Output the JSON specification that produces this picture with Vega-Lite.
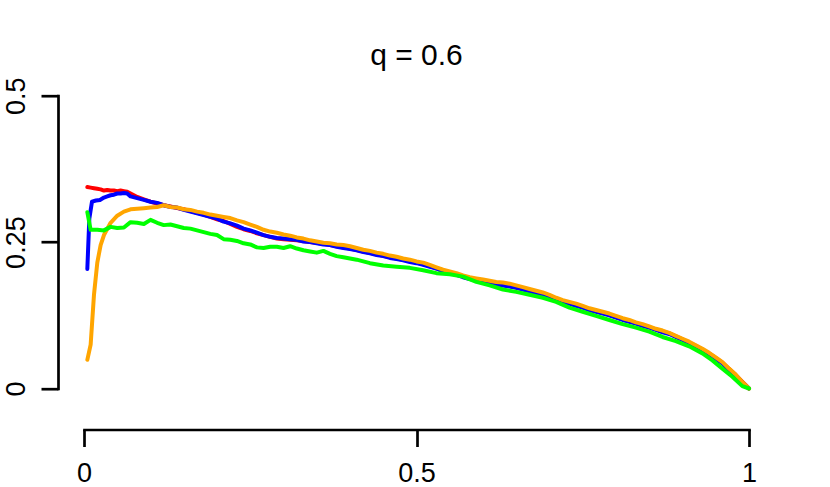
{
  "$schema": "https://vega.github.io/schema/vega-lite/v6.json",
  "autosize": {"type": "none"},
  "width": 665,
  "height": 292.8,
  "padding": {"left": 84, "top": 95.7, "right": 81, "bottom": 98.5},
  "background": "white",
  "title": {"text": "q = 0.6", "fontSize": 30, "font": "Liberation Sans", "fontWeight": "normal", "color": "black", "anchor": "middle", "baseline": "alphabetic", "offset": -18},
  "config": {
    "view": {"stroke": null},
    "axis": {"grid": false, "domainColor": "black", "domainWidth": 2.7, "tickColor": "black", "tickWidth": 2.7, "tickSize": 17, "labelFont": "Liberation Sans", "labelFontSize": 27, "labelColor": "black", "title": null, "domainCap": "square"}
  },
  "data": {"values": [
    {"s":"o","x":0.005,"y":0.049},{"s":"o","x":0.010,"y":0.075},{"s":"o","x":0.015,"y":0.160},{"s":"o","x":0.020,"y":0.215},{"s":"o","x":0.025,"y":0.245},{"s":"o","x":0.030,"y":0.262},{"s":"o","x":0.040,"y":0.283},{"s":"o","x":0.050,"y":0.295},{"s":"o","x":0.060,"y":0.302},{"s":"o","x":0.070,"y":0.306},{"s":"o","x":0.080,"y":0.307},{"s":"o","x":0.090,"y":0.308},{"s":"o","x":0.100,"y":0.309},{"s":"o","x":0.110,"y":0.310},{"s":"o","x":0.120,"y":0.313},{"s":"o","x":0.130,"y":0.310},{"s":"o","x":0.140,"y":0.309},{"s":"o","x":0.150,"y":0.306},{"s":"o","x":0.160,"y":0.305},{"s":"o","x":0.170,"y":0.302},{"s":"o","x":0.180,"y":0.300},{"s":"o","x":0.190,"y":0.297},{"s":"o","x":0.200,"y":0.295},{"s":"o","x":0.210,"y":0.293},{"s":"o","x":0.220,"y":0.291},{"s":"o","x":0.230,"y":0.287},{"s":"o","x":0.240,"y":0.284},{"s":"o","x":0.250,"y":0.280},{"s":"o","x":0.260,"y":0.276},{"s":"o","x":0.270,"y":0.271},{"s":"o","x":0.280,"y":0.268},{"s":"o","x":0.290,"y":0.266},{"s":"o","x":0.300,"y":0.263},{"s":"o","x":0.310,"y":0.261},{"s":"o","x":0.320,"y":0.258},{"s":"o","x":0.330,"y":0.256},{"s":"o","x":0.340,"y":0.253},{"s":"o","x":0.350,"y":0.251},{"s":"o","x":0.360,"y":0.249},{"s":"o","x":0.370,"y":0.248},{"s":"o","x":0.380,"y":0.246},{"s":"o","x":0.390,"y":0.245},{"s":"o","x":0.400,"y":0.243},{"s":"o","x":0.410,"y":0.240},{"s":"o","x":0.420,"y":0.237},{"s":"o","x":0.430,"y":0.235},{"s":"o","x":0.440,"y":0.232},{"s":"o","x":0.450,"y":0.230},{"s":"o","x":0.460,"y":0.227},{"s":"o","x":0.470,"y":0.225},{"s":"o","x":0.480,"y":0.222},{"s":"o","x":0.490,"y":0.220},{"s":"o","x":0.500,"y":0.217},{"s":"o","x":0.510,"y":0.215},{"s":"o","x":0.520,"y":0.211},{"s":"o","x":0.530,"y":0.207},{"s":"o","x":0.540,"y":0.203},{"s":"o","x":0.550,"y":0.200},{"s":"o","x":0.560,"y":0.197},{"s":"o","x":0.570,"y":0.193},{"s":"o","x":0.580,"y":0.190},{"s":"o","x":0.590,"y":0.188},{"s":"o","x":0.600,"y":0.186},{"s":"o","x":0.610,"y":0.184},{"s":"o","x":0.620,"y":0.182},{"s":"o","x":0.630,"y":0.181},{"s":"o","x":0.640,"y":0.179},{"s":"o","x":0.650,"y":0.176},{"s":"o","x":0.660,"y":0.173},{"s":"o","x":0.670,"y":0.170},{"s":"o","x":0.680,"y":0.167},{"s":"o","x":0.690,"y":0.164},{"s":"o","x":0.700,"y":0.160},{"s":"o","x":0.710,"y":0.155},{"s":"o","x":0.720,"y":0.151},{"s":"o","x":0.730,"y":0.148},{"s":"o","x":0.740,"y":0.145},{"s":"o","x":0.750,"y":0.141},{"s":"o","x":0.760,"y":0.137},{"s":"o","x":0.770,"y":0.134},{"s":"o","x":0.780,"y":0.131},{"s":"o","x":0.790,"y":0.128},{"s":"o","x":0.800,"y":0.124},{"s":"o","x":0.810,"y":0.120},{"s":"o","x":0.820,"y":0.117},{"s":"o","x":0.830,"y":0.113},{"s":"o","x":0.840,"y":0.110},{"s":"o","x":0.850,"y":0.106},{"s":"o","x":0.860,"y":0.102},{"s":"o","x":0.870,"y":0.099},{"s":"o","x":0.880,"y":0.095},{"s":"o","x":0.890,"y":0.090},{"s":"o","x":0.900,"y":0.085},{"s":"o","x":0.910,"y":0.080},{"s":"o","x":0.920,"y":0.074},{"s":"o","x":0.930,"y":0.068},{"s":"o","x":0.940,"y":0.061},{"s":"o","x":0.950,"y":0.053},{"s":"o","x":0.960,"y":0.045},{"s":"o","x":0.970,"y":0.034},{"s":"o","x":0.980,"y":0.024},{"s":"o","x":0.990,"y":0.011},{"s":"o","x":1.000,"y":0.000},

    {"s":"b","x":0.005,"y":0.204},{"s":"b","x":0.008,"y":0.290},{"s":"b","x":0.012,"y":0.319},{"s":"b","x":0.018,"y":0.321},{"s":"b","x":0.024,"y":0.322},{"s":"b","x":0.030,"y":0.326},{"s":"b","x":0.035,"y":0.328},{"s":"b","x":0.040,"y":0.330},{"s":"b","x":0.045,"y":0.331},{"s":"b","x":0.050,"y":0.333},{"s":"b","x":0.055,"y":0.333},{"s":"b","x":0.060,"y":0.334},{"s":"b","x":0.065,"y":0.333},{"s":"b","x":0.070,"y":0.328},{"s":"b","x":0.080,"y":0.325},{"s":"b","x":0.090,"y":0.322},{"s":"b","x":0.100,"y":0.319},{"s":"b","x":0.110,"y":0.317},{"s":"b","x":0.120,"y":0.313},{"s":"b","x":0.130,"y":0.310},{"s":"b","x":0.140,"y":0.309},{"s":"b","x":0.150,"y":0.305},{"s":"b","x":0.160,"y":0.302},{"s":"b","x":0.170,"y":0.299},{"s":"b","x":0.180,"y":0.296},{"s":"b","x":0.190,"y":0.293},{"s":"b","x":0.200,"y":0.290},{"s":"b","x":0.210,"y":0.285},{"s":"b","x":0.220,"y":0.282},{"s":"b","x":0.230,"y":0.278},{"s":"b","x":0.240,"y":0.273},{"s":"b","x":0.250,"y":0.270},{"s":"b","x":0.260,"y":0.266},{"s":"b","x":0.270,"y":0.262},{"s":"b","x":0.280,"y":0.259},{"s":"b","x":0.290,"y":0.257},{"s":"b","x":0.300,"y":0.256},{"s":"b","x":0.310,"y":0.255},{"s":"b","x":0.320,"y":0.254},{"s":"b","x":0.330,"y":0.251},{"s":"b","x":0.340,"y":0.250},{"s":"b","x":0.350,"y":0.248},{"s":"b","x":0.360,"y":0.246},{"s":"b","x":0.370,"y":0.245},{"s":"b","x":0.380,"y":0.242},{"s":"b","x":0.390,"y":0.240},{"s":"b","x":0.400,"y":0.238},{"s":"b","x":0.410,"y":0.236},{"s":"b","x":0.420,"y":0.233},{"s":"b","x":0.430,"y":0.231},{"s":"b","x":0.440,"y":0.228},{"s":"b","x":0.450,"y":0.226},{"s":"b","x":0.460,"y":0.223},{"s":"b","x":0.470,"y":0.221},{"s":"b","x":0.480,"y":0.219},{"s":"b","x":0.490,"y":0.216},{"s":"b","x":0.500,"y":0.214},{"s":"b","x":0.510,"y":0.211},{"s":"b","x":0.520,"y":0.208},{"s":"b","x":0.530,"y":0.205},{"s":"b","x":0.540,"y":0.200},{"s":"b","x":0.550,"y":0.197},{"s":"b","x":0.560,"y":0.194},{"s":"b","x":0.570,"y":0.190},{"s":"b","x":0.580,"y":0.187},{"s":"b","x":0.590,"y":0.185},{"s":"b","x":0.600,"y":0.182},{"s":"b","x":0.610,"y":0.180},{"s":"b","x":0.620,"y":0.178},{"s":"b","x":0.630,"y":0.176},{"s":"b","x":0.640,"y":0.174},{"s":"b","x":0.650,"y":0.172},{"s":"b","x":0.660,"y":0.169},{"s":"b","x":0.670,"y":0.166},{"s":"b","x":0.680,"y":0.163},{"s":"b","x":0.690,"y":0.160},{"s":"b","x":0.700,"y":0.156},{"s":"b","x":0.710,"y":0.152},{"s":"b","x":0.720,"y":0.148},{"s":"b","x":0.730,"y":0.145},{"s":"b","x":0.740,"y":0.141},{"s":"b","x":0.750,"y":0.138},{"s":"b","x":0.760,"y":0.134},{"s":"b","x":0.770,"y":0.131},{"s":"b","x":0.780,"y":0.128},{"s":"b","x":0.790,"y":0.125},{"s":"b","x":0.800,"y":0.121},{"s":"b","x":0.810,"y":0.117},{"s":"b","x":0.820,"y":0.114},{"s":"b","x":0.830,"y":0.111},{"s":"b","x":0.840,"y":0.107},{"s":"b","x":0.850,"y":0.104},{"s":"b","x":0.860,"y":0.100},{"s":"b","x":0.870,"y":0.096},{"s":"b","x":0.880,"y":0.093},{"s":"b","x":0.890,"y":0.088},{"s":"b","x":0.900,"y":0.083},{"s":"b","x":0.910,"y":0.078},{"s":"b","x":0.920,"y":0.072},{"s":"b","x":0.930,"y":0.066},{"s":"b","x":0.940,"y":0.059},{"s":"b","x":0.950,"y":0.051},{"s":"b","x":0.960,"y":0.043},{"s":"b","x":0.970,"y":0.032},{"s":"b","x":0.980,"y":0.022},{"s":"b","x":0.990,"y":0.010},{"s":"b","x":1.000,"y":0.000},

    {"s":"r","x":0.005,"y":0.344},{"s":"r","x":0.010,"y":0.343},{"s":"r","x":0.015,"y":0.342},{"s":"r","x":0.020,"y":0.341},{"s":"r","x":0.025,"y":0.340},{"s":"r","x":0.030,"y":0.338},{"s":"r","x":0.035,"y":0.339},{"s":"r","x":0.040,"y":0.338},{"s":"r","x":0.045,"y":0.338},{"s":"r","x":0.050,"y":0.337},{"s":"r","x":0.055,"y":0.338},{"s":"r","x":0.060,"y":0.337},{"s":"r","x":0.065,"y":0.336},{"s":"r","x":0.070,"y":0.333},{"s":"r","x":0.080,"y":0.327},{"s":"r","x":0.090,"y":0.323},{"s":"r","x":0.100,"y":0.319},{"s":"r","x":0.110,"y":0.316},{"s":"r","x":0.120,"y":0.313},{"s":"r","x":0.130,"y":0.311},{"s":"r","x":0.140,"y":0.308},{"s":"r","x":0.150,"y":0.306},{"s":"r","x":0.160,"y":0.303},{"s":"r","x":0.170,"y":0.300},{"s":"r","x":0.180,"y":0.297},{"s":"r","x":0.190,"y":0.293},{"s":"r","x":0.200,"y":0.289},{"s":"r","x":0.210,"y":0.286},{"s":"r","x":0.220,"y":0.281},{"s":"r","x":0.230,"y":0.276},{"s":"r","x":0.240,"y":0.272},{"s":"r","x":0.250,"y":0.269},{"s":"r","x":0.260,"y":0.265},{"s":"r","x":0.270,"y":0.262},{"s":"r","x":0.280,"y":0.259},{"s":"r","x":0.290,"y":0.256},{"s":"r","x":0.300,"y":0.255},{"s":"r","x":0.320,"y":0.253},{"s":"r","x":0.340,"y":0.250},{"s":"r","x":0.360,"y":0.247},{"s":"r","x":0.380,"y":0.243},{"s":"r","x":0.400,"y":0.239},{"s":"r","x":0.420,"y":0.234},{"s":"r","x":0.440,"y":0.229},{"s":"r","x":0.460,"y":0.224},{"s":"r","x":0.480,"y":0.220},{"s":"r","x":0.500,"y":0.215},{"s":"r","x":0.520,"y":0.209},{"s":"r","x":0.540,"y":0.201},{"s":"r","x":0.560,"y":0.195},{"s":"r","x":0.580,"y":0.188},{"s":"r","x":0.600,"y":0.183},{"s":"r","x":0.620,"y":0.179},{"s":"r","x":0.640,"y":0.175},{"s":"r","x":0.660,"y":0.170},{"s":"r","x":0.680,"y":0.164},{"s":"r","x":0.700,"y":0.157},{"s":"r","x":0.720,"y":0.149},{"s":"r","x":0.740,"y":0.142},{"s":"r","x":0.760,"y":0.135},{"s":"r","x":0.780,"y":0.129},{"s":"r","x":0.800,"y":0.122},{"s":"r","x":0.820,"y":0.115},{"s":"r","x":0.840,"y":0.108},{"s":"r","x":0.860,"y":0.101},{"s":"r","x":0.880,"y":0.094},{"s":"r","x":0.900,"y":0.084},{"s":"r","x":0.920,"y":0.073},{"s":"r","x":0.940,"y":0.060},{"s":"r","x":0.960,"y":0.044},{"s":"r","x":0.980,"y":0.023},{"s":"r","x":1.000,"y":0.000},

    {"s":"g","x":0.005,"y":0.301},{"s":"g","x":0.010,"y":0.271},{"s":"g","x":0.020,"y":0.271},{"s":"g","x":0.030,"y":0.270},{"s":"g","x":0.040,"y":0.276},{"s":"g","x":0.050,"y":0.274},{"s":"g","x":0.060,"y":0.275},{"s":"g","x":0.070,"y":0.284},{"s":"g","x":0.080,"y":0.283},{"s":"g","x":0.090,"y":0.281},{"s":"g","x":0.100,"y":0.288},{"s":"g","x":0.110,"y":0.283},{"s":"g","x":0.120,"y":0.279},{"s":"g","x":0.130,"y":0.280},{"s":"g","x":0.140,"y":0.277},{"s":"g","x":0.150,"y":0.274},{"s":"g","x":0.160,"y":0.273},{"s":"g","x":0.170,"y":0.270},{"s":"g","x":0.180,"y":0.267},{"s":"g","x":0.190,"y":0.264},{"s":"g","x":0.200,"y":0.262},{"s":"g","x":0.210,"y":0.255},{"s":"g","x":0.220,"y":0.254},{"s":"g","x":0.230,"y":0.252},{"s":"g","x":0.240,"y":0.248},{"s":"g","x":0.250,"y":0.246},{"s":"g","x":0.260,"y":0.241},{"s":"g","x":0.270,"y":0.240},{"s":"g","x":0.280,"y":0.242},{"s":"g","x":0.290,"y":0.242},{"s":"g","x":0.300,"y":0.240},{"s":"g","x":0.310,"y":0.243},{"s":"g","x":0.320,"y":0.239},{"s":"g","x":0.330,"y":0.236},{"s":"g","x":0.340,"y":0.234},{"s":"g","x":0.350,"y":0.232},{"s":"g","x":0.360,"y":0.235},{"s":"g","x":0.370,"y":0.230},{"s":"g","x":0.380,"y":0.226},{"s":"g","x":0.390,"y":0.224},{"s":"g","x":0.400,"y":0.222},{"s":"g","x":0.410,"y":0.220},{"s":"g","x":0.430,"y":0.214},{"s":"g","x":0.450,"y":0.210},{"s":"g","x":0.470,"y":0.208},{"s":"g","x":0.490,"y":0.206},{"s":"g","x":0.510,"y":0.202},{"s":"g","x":0.530,"y":0.197},{"s":"g","x":0.550,"y":0.195},{"s":"g","x":0.570,"y":0.191},{"s":"g","x":0.590,"y":0.182},{"s":"g","x":0.610,"y":0.176},{"s":"g","x":0.630,"y":0.169},{"s":"g","x":0.650,"y":0.165},{"s":"g","x":0.670,"y":0.160},{"s":"g","x":0.690,"y":0.155},{"s":"g","x":0.710,"y":0.148},{"s":"g","x":0.730,"y":0.138},{"s":"g","x":0.750,"y":0.131},{"s":"g","x":0.770,"y":0.124},{"s":"g","x":0.790,"y":0.117},{"s":"g","x":0.810,"y":0.110},{"s":"g","x":0.830,"y":0.104},{"s":"g","x":0.850,"y":0.097},{"s":"g","x":0.870,"y":0.088},{"s":"g","x":0.890,"y":0.081},{"s":"g","x":0.910,"y":0.072},{"s":"g","x":0.930,"y":0.060},{"s":"g","x":0.945,"y":0.048},{"s":"g","x":0.960,"y":0.034},{"s":"g","x":0.975,"y":0.020},{"s":"g","x":0.990,"y":0.004},{"s":"g","x":1.000,"y":0.000}
  ]},
  "encoding": {
    "x": {"field": "x", "type": "quantitative", "scale": {"domain": [0, 1], "nice": false, "zero": false},
          "axis": {"values": [0, 0.5, 1], "labelExpr": "toString(datum.value)", "offset": 41, "labelPadding": 14, "labelFlush": false}},
    "y": {"field": "y", "type": "quantitative", "scale": {"domain": [0, 0.5], "nice": false},
          "axis": {"values": [0, 0.25, 0.5], "labelExpr": "toString(datum.value)", "offset": 26, "labelAngle": -90, "labelAlign": "center", "labelBaseline": "alphabetic", "labelPadding": 17, "labelFlush": false}}
  },
  "layer": [
    {"transform": [{"filter": "datum.s === 'r'"}], "mark": {"type": "line", "color": "#FF0000", "strokeWidth": 4, "strokeJoin": "round", "strokeCap": "round"}},
    {"transform": [{"filter": "datum.s === 'b'"}], "mark": {"type": "line", "color": "#0000FF", "strokeWidth": 4, "strokeJoin": "round", "strokeCap": "round"}},
    {"transform": [{"filter": "datum.s === 'o'"}], "mark": {"type": "line", "color": "#FFA500", "strokeWidth": 4, "strokeJoin": "round", "strokeCap": "round"}},
    {"transform": [{"filter": "datum.s === 'g'"}], "mark": {"type": "line", "color": "#00FF00", "strokeWidth": 4, "strokeJoin": "round", "strokeCap": "round"}}
  ]
}
